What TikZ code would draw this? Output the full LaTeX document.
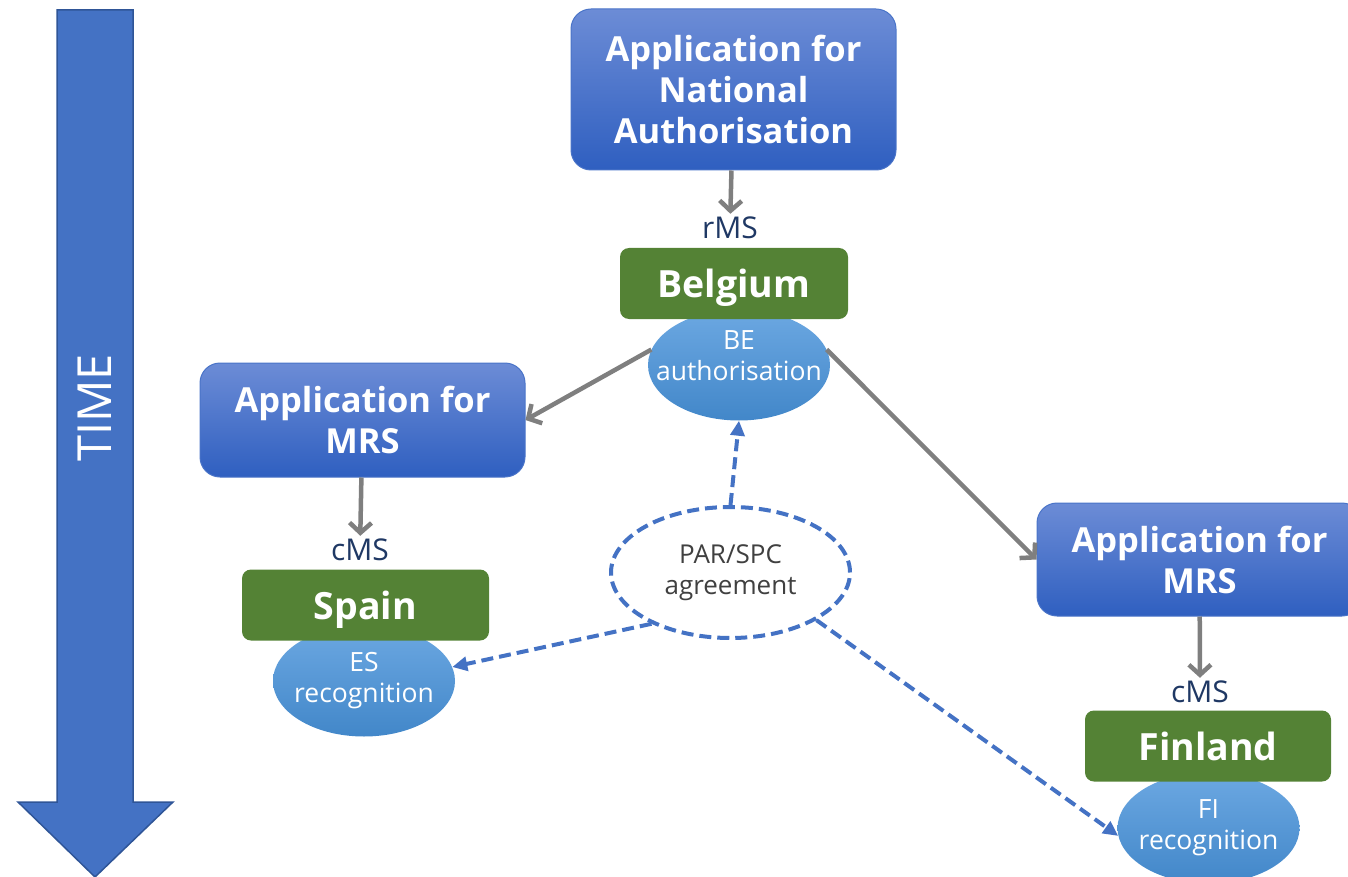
\documentclass[tikz,border=0pt]{standalone}
\usepackage{fontspec}
\setmainfont{Open Sans}
\usetikzlibrary{positioning, shapes.geometric, arrows.meta, backgrounds}

\definecolor{appTop}{HTML}{6C8CD6}
\definecolor{appBot}{HTML}{2F5FC0}
\definecolor{appEdge}{HTML}{4A74C8}
\definecolor{msGreen}{HTML}{548235}
\definecolor{ovTop}{HTML}{6CA8E2}
\definecolor{ovBot}{HTML}{4287C9}
\definecolor{flowGray}{HTML}{7F7F7F}
\definecolor{dashBlue}{HTML}{4472C4}
\definecolor{roleNavy}{HTML}{1F3864}
\definecolor{timeEdge}{HTML}{2F5597}

\begin{document}
\begin{tikzpicture}[x=1pt, y=-1pt, every node/.style={align=center, inner sep=0pt},
    arrow/.style={-{Straight Barb[length=10pt, width=22pt]}, line width=4.5pt, flowGray},
    dasharrow/.style={-{Triangle[length=15pt, width=14pt]}, line width=4pt, dashBlue, dash pattern=on 12pt off 6pt}]
        \tikzstyle{application} = [rectangle, rounded corners=20pt, top color=appTop, bottom color=appBot, draw=appEdge, line width=1pt, text=white, font=\fontsize{34.5}{41}\selectfont\bfseries, minimum width=325pt]
        \tikzstyle{country} = [rectangle, rounded corners=9pt, fill=msGreen, text=white, font=\fontsize{37.5}{44}\selectfont\bfseries, text depth=0pt, minimum width=247pt, minimum height=71pt]
        \tikzstyle{outcome} = [ellipse, top color=ovTop, bottom color=ovBot, text=white, font=\fontsize{26.5}{31}\selectfont, inner sep=-25pt, minimum width=182pt, minimum height=111pt]
        \tikzstyle{role} = [text=roleNavy, font=\fontsize{30}{36}\selectfont, inner sep=3pt]

        \useasboundingbox (0,0) rectangle (1348,877);

        % time axis
        \fill[dashBlue, draw=timeEdge, line width=1.5pt] (57,10) -- (133,10) -- (133,802) -- (173,802) -- (95,877) -- (18,802) -- (57,802) -- cycle;
        \node[rotate=90, text=white, font=\fontsize{47}{50}\selectfont] (time) at (95,408) {TIME};

        % national authorisation in Belgium
        \node[application, minimum height=161pt] (natapp) at (733.5,89.5) {Application for\\National\\Authorisation};
        \node[role] (rms) at (730,228) {rMS};
        \node[country, minimum width=228pt] (belgium) at (734,283.5) {Belgium};

        % mutual recognition in Spain
        \node[application, minimum height=114pt] (esapp) at (362.5,420) {Application for\\MRS};
        \node[role] (cmses) at (360,550) {cMS};
        \node[country] (spain) at (365.5,605) {Spain};

        % mutual recognition in Finland
        \node[application, minimum height=113pt] (fiapp) at (1199.5,559.5) {Application for\\MRS};
        \node[role] (cmsfi) at (1200,692) {cMS};
        \node[country, minimum width=246pt] (finland) at (1208,746) {Finland};

        \begin{scope}[on background layer]
            \node[outcome] (beauth) at (739,365) {BE\\authorisation\\[-12pt]};
            \node[outcome] (esrec) at (364,681) {ES\\recognition};
            \node[outcome] (firec) at (1208.5,828) {FI\\recognition};
        \end{scope}

        \node[ellipse, draw=dashBlue, fill=white, line width=4pt, dash pattern=on 12pt off 6pt, text=black!75, font=\fontsize{26}{31}\selectfont, inner sep=-25pt, minimum width=239pt, minimum height=131pt] (agree) at (730.5,572.5) {PAR/SPC\\agreement};

        \draw[arrow] (natapp) -- (rms);
        \draw[arrow] (beauth.170) -- (esapp.east);
        \draw[arrow] (beauth.10) -- (fiapp.west);
        \draw[arrow] (esapp) -- (cmses);
        \draw[arrow] (fiapp) -- (cmsfi);

        \draw[dasharrow] (agree.north) -- (beauth.south);
        \draw[dasharrow] (agree.213) -- (esrec.9);
        \draw[dasharrow] (agree.331) -- (firec.185);
    \end{tikzpicture}
\end{document}
